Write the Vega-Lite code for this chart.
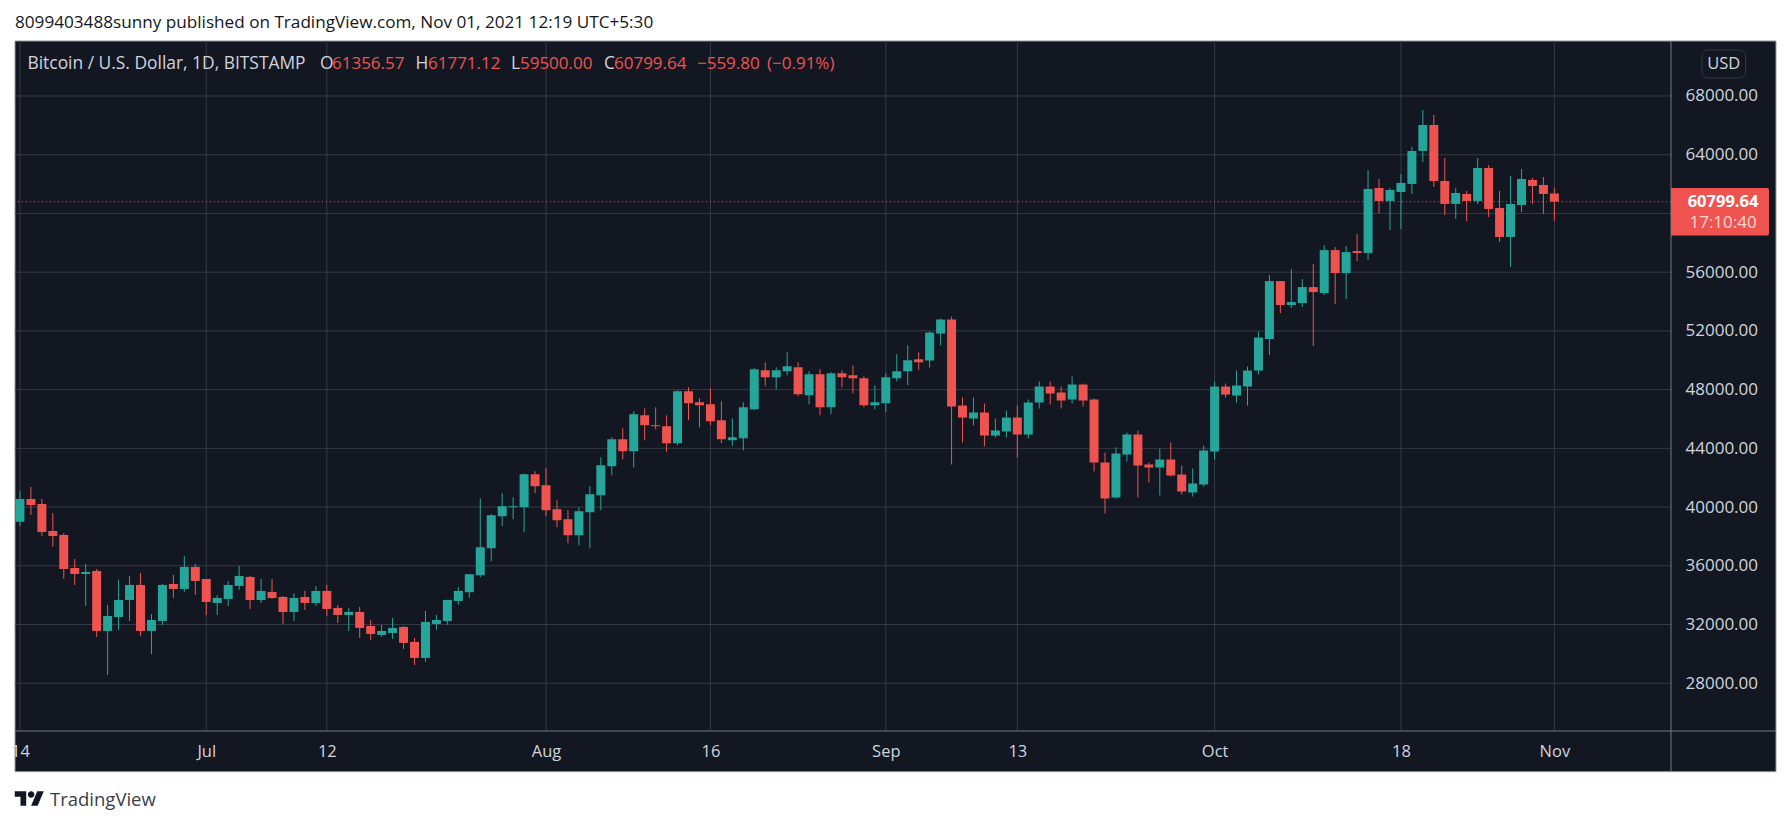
{
  "$schema": "https://vega.github.io/schema/vega-lite/v5.json",
  "autosize": {"type": "none"},
  "padding": {"left": 15, "top": 41, "right": 120, "bottom": 95},
  "width": 1656,
  "height": 690,
  "background": "#ffffff",
  "config": {"view": {"stroke": "transparent"}, "font": "Open Sans"},
  "title": {
    "text": "8099403488sunny published on TradingView.com, Nov 01, 2021 12:19 UTC+5:30",
    "anchor": "start",
    "frame": "group",
    "offset": 9,
    "fontSize": 17.15,
    "fontWeight": "normal",
    "color": "#131722",
    "font": "Open Sans"
  },
  "datasets": {
    "candles": [
      {"date":"2021-06-14","open":38998,"high":41094,"low":38711,"close":40550,"dir":"up"},
      {"date":"2021-06-15","open":40550,"high":41367,"low":39460,"close":40141,"dir":"down"},
      {"date":"2021-06-16","open":40209,"high":40550,"low":38030,"close":38302,"dir":"down"},
      {"date":"2021-06-17","open":38370,"high":39596,"low":37280,"close":38030,"dir":"down"},
      {"date":"2021-06-18","open":38098,"high":38234,"low":35101,"close":35782,"dir":"down"},
      {"date":"2021-06-19","open":35850,"high":36463,"low":34693,"close":35442,"dir":"down"},
      {"date":"2021-06-20","open":35442,"high":36123,"low":33263,"close":35578,"dir":"up"},
      {"date":"2021-06-21","open":35646,"high":35782,"low":31152,"close":31560,"dir":"down"},
      {"date":"2021-06-22","open":31560,"high":33331,"low":28564,"close":32581,"dir":"up"},
      {"date":"2021-06-23","open":32513,"high":35034,"low":31628,"close":33671,"dir":"up"},
      {"date":"2021-06-24","open":33671,"high":35306,"low":32241,"close":34693,"dir":"up"},
      {"date":"2021-06-25","open":34693,"high":35510,"low":31220,"close":31560,"dir":"down"},
      {"date":"2021-06-26","open":31560,"high":32718,"low":29994,"close":32309,"dir":"up"},
      {"date":"2021-06-27","open":32241,"high":34761,"low":31969,"close":34693,"dir":"up"},
      {"date":"2021-06-28","open":34761,"high":35374,"low":33808,"close":34420,"dir":"down"},
      {"date":"2021-06-29","open":34420,"high":36668,"low":34216,"close":35919,"dir":"up"},
      {"date":"2021-06-30","open":35919,"high":36123,"low":34012,"close":34965,"dir":"down"},
      {"date":"2021-07-01","open":35101,"high":35101,"low":32650,"close":33535,"dir":"down"},
      {"date":"2021-07-02","open":33467,"high":34012,"low":32650,"close":33808,"dir":"up"},
      {"date":"2021-07-03","open":33739,"high":34965,"low":33263,"close":34693,"dir":"up"},
      {"date":"2021-07-04","open":34625,"high":35987,"low":34352,"close":35306,"dir":"up"},
      {"date":"2021-07-05","open":35238,"high":35306,"low":33059,"close":33671,"dir":"down"},
      {"date":"2021-07-06","open":33671,"high":35101,"low":33467,"close":34284,"dir":"up"},
      {"date":"2021-07-07","open":34216,"high":35101,"low":33740,"close":33808,"dir":"down"},
      {"date":"2021-07-08","open":33876,"high":33944,"low":32037,"close":32854,"dir":"down"},
      {"date":"2021-07-09","open":32854,"high":34125,"low":32241,"close":33808,"dir":"up"},
      {"date":"2021-07-10","open":33876,"high":34284,"low":32990,"close":33467,"dir":"down"},
      {"date":"2021-07-11","open":33467,"high":34625,"low":33263,"close":34284,"dir":"up"},
      {"date":"2021-07-12","open":34284,"high":34693,"low":32581,"close":33059,"dir":"down"},
      {"date":"2021-07-13","open":33127,"high":33331,"low":32105,"close":32650,"dir":"down"},
      {"date":"2021-07-14","open":32650,"high":33127,"low":31560,"close":32854,"dir":"up"},
      {"date":"2021-07-15","open":32854,"high":33195,"low":31083,"close":31765,"dir":"down"},
      {"date":"2021-07-16","open":31901,"high":32309,"low":30947,"close":31356,"dir":"down"},
      {"date":"2021-07-17","open":31288,"high":31969,"low":31152,"close":31560,"dir":"up"},
      {"date":"2021-07-18","open":31424,"high":32445,"low":31015,"close":31765,"dir":"up"},
      {"date":"2021-07-19","open":31833,"high":31901,"low":30334,"close":30743,"dir":"down"},
      {"date":"2021-07-20","open":30811,"high":31083,"low":29245,"close":29722,"dir":"down"},
      {"date":"2021-07-21","open":29722,"high":32922,"low":29449,"close":32173,"dir":"up"},
      {"date":"2021-07-22","open":32037,"high":32650,"low":31628,"close":32309,"dir":"up"},
      {"date":"2021-07-23","open":32241,"high":33671,"low":31969,"close":33671,"dir":"up"},
      {"date":"2021-07-24","open":33603,"high":34557,"low":33331,"close":34284,"dir":"up"},
      {"date":"2021-07-25","open":34199,"high":35425,"low":33813,"close":35425,"dir":"up"},
      {"date":"2021-07-26","open":35357,"high":40600,"low":35220,"close":37263,"dir":"up"},
      {"date":"2021-07-27","open":37195,"high":39511,"low":36310,"close":39443,"dir":"up"},
      {"date":"2021-07-28","open":39374,"high":40941,"low":38693,"close":40055,"dir":"up"},
      {"date":"2021-07-29","open":39987,"high":40668,"low":39170,"close":40055,"dir":"up"},
      {"date":"2021-07-30","open":39987,"high":42303,"low":38285,"close":42235,"dir":"up"},
      {"date":"2021-07-31","open":42235,"high":42439,"low":40941,"close":41417,"dir":"down"},
      {"date":"2021-08-01","open":41486,"high":42643,"low":39374,"close":39783,"dir":"down"},
      {"date":"2021-08-02","open":39851,"high":40464,"low":38625,"close":39102,"dir":"down"},
      {"date":"2021-08-03","open":39170,"high":39783,"low":37536,"close":38080,"dir":"down"},
      {"date":"2021-08-04","open":38080,"high":39987,"low":37400,"close":39715,"dir":"up"},
      {"date":"2021-08-05","open":39647,"high":41417,"low":37195,"close":40873,"dir":"up"},
      {"date":"2021-08-06","open":40804,"high":43392,"low":39783,"close":42848,"dir":"up"},
      {"date":"2021-08-07","open":42779,"high":44754,"low":42167,"close":44618,"dir":"up"},
      {"date":"2021-08-08","open":44618,"high":45367,"low":43256,"close":43801,"dir":"down"},
      {"date":"2021-08-09","open":43801,"high":46525,"low":42711,"close":46321,"dir":"up"},
      {"date":"2021-08-10","open":46252,"high":46729,"low":44550,"close":45572,"dir":"down"},
      {"date":"2021-08-11","open":45572,"high":46797,"low":45299,"close":45503,"dir":"down"},
      {"date":"2021-08-12","open":45503,"high":46252,"low":43733,"close":44346,"dir":"down"},
      {"date":"2021-08-13","open":44346,"high":47955,"low":44210,"close":47887,"dir":"up"},
      {"date":"2021-08-14","open":47887,"high":48159,"low":45912,"close":47070,"dir":"down"},
      {"date":"2021-08-15","open":47138,"high":47410,"low":45435,"close":46933,"dir":"down"},
      {"date":"2021-08-16","open":47002,"high":48091,"low":45571,"close":45844,"dir":"down"},
      {"date":"2021-08-17","open":45912,"high":47206,"low":44346,"close":44618,"dir":"down"},
      {"date":"2021-08-18","open":44550,"high":46048,"low":44141,"close":44754,"dir":"up"},
      {"date":"2021-08-19","open":44686,"high":47138,"low":43869,"close":46797,"dir":"up"},
      {"date":"2021-08-20","open":46661,"high":49453,"low":46593,"close":49385,"dir":"up"},
      {"date":"2021-08-21","open":49317,"high":49862,"low":48227,"close":48840,"dir":"down"},
      {"date":"2021-08-22","open":48840,"high":49521,"low":48023,"close":49317,"dir":"up"},
      {"date":"2021-08-23","open":49249,"high":50543,"low":48976,"close":49589,"dir":"up"},
      {"date":"2021-08-24","open":49521,"high":49862,"low":47546,"close":47683,"dir":"down"},
      {"date":"2021-08-25","open":47615,"high":49249,"low":47002,"close":49045,"dir":"up"},
      {"date":"2021-08-26","open":49045,"high":49385,"low":46252,"close":46797,"dir":"down"},
      {"date":"2021-08-27","open":46797,"high":49181,"low":46321,"close":49113,"dir":"up"},
      {"date":"2021-08-28","open":49113,"high":49317,"low":48159,"close":48840,"dir":"down"},
      {"date":"2021-08-29","open":48977,"high":49657,"low":47751,"close":48772,"dir":"down"},
      {"date":"2021-08-30","open":48772,"high":48908,"low":46797,"close":46933,"dir":"down"},
      {"date":"2021-08-31","open":46933,"high":48295,"low":46661,"close":47138,"dir":"up"},
      {"date":"2021-09-01","open":47070,"high":49113,"low":46457,"close":48840,"dir":"up"},
      {"date":"2021-09-02","open":48772,"high":50407,"low":48568,"close":49249,"dir":"up"},
      {"date":"2021-09-03","open":49249,"high":51020,"low":48295,"close":49998,"dir":"up"},
      {"date":"2021-09-04","open":50066,"high":50543,"low":49317,"close":49862,"dir":"down"},
      {"date":"2021-09-05","open":49980,"high":51955,"low":49503,"close":51887,"dir":"up"},
      {"date":"2021-09-06","open":51819,"high":52840,"low":51001,"close":52772,"dir":"up"},
      {"date":"2021-09-07","open":52772,"high":52976,"low":42897,"close":46847,"dir":"down"},
      {"date":"2021-09-08","open":46915,"high":47460,"low":44396,"close":46098,"dir":"down"},
      {"date":"2021-09-09","open":46030,"high":47460,"low":45553,"close":46439,"dir":"up"},
      {"date":"2021-09-10","open":46439,"high":47052,"low":44123,"close":44872,"dir":"down"},
      {"date":"2021-09-11","open":44872,"high":46030,"low":44736,"close":45213,"dir":"up"},
      {"date":"2021-09-12","open":45145,"high":46575,"low":44736,"close":46098,"dir":"up"},
      {"date":"2021-09-13","open":46098,"high":46915,"low":43374,"close":44940,"dir":"down"},
      {"date":"2021-09-14","open":44940,"high":47324,"low":44668,"close":47120,"dir":"up"},
      {"date":"2021-09-15","open":47120,"high":48550,"low":46711,"close":48209,"dir":"up"},
      {"date":"2021-09-16","open":48209,"high":48550,"low":46983,"close":47733,"dir":"down"},
      {"date":"2021-09-17","open":47801,"high":48209,"low":46711,"close":47256,"dir":"down"},
      {"date":"2021-09-18","open":47324,"high":48890,"low":47052,"close":48345,"dir":"up"},
      {"date":"2021-09-19","open":48345,"high":48413,"low":46847,"close":47256,"dir":"down"},
      {"date":"2021-09-20","open":47324,"high":47392,"low":42421,"close":43034,"dir":"down"},
      {"date":"2021-09-21","open":43034,"high":43714,"low":39561,"close":40582,"dir":"down"},
      {"date":"2021-09-22","open":40650,"high":44055,"low":40582,"close":43647,"dir":"up"},
      {"date":"2021-09-23","open":43578,"high":45077,"low":43102,"close":44940,"dir":"up"},
      {"date":"2021-09-24","open":44940,"high":45213,"low":40650,"close":42829,"dir":"down"},
      {"date":"2021-09-25","open":42897,"high":43034,"low":41672,"close":42693,"dir":"down"},
      {"date":"2021-09-26","open":42693,"high":43987,"low":40786,"close":43238,"dir":"up"},
      {"date":"2021-09-27","open":43238,"high":44396,"low":42080,"close":42148,"dir":"down"},
      {"date":"2021-09-28","open":42216,"high":42829,"low":40854,"close":41059,"dir":"down"},
      {"date":"2021-09-29","open":40991,"high":42625,"low":40718,"close":41604,"dir":"up"},
      {"date":"2021-09-30","open":41536,"high":44191,"low":41399,"close":43851,"dir":"up"},
      {"date":"2021-10-01","open":43783,"high":48550,"low":43238,"close":48209,"dir":"up"},
      {"date":"2021-10-02","open":48209,"high":48413,"low":47460,"close":47664,"dir":"down"},
      {"date":"2021-10-03","open":47596,"high":49299,"low":47120,"close":48277,"dir":"up"},
      {"date":"2021-10-04","open":48209,"high":49571,"low":46915,"close":49299,"dir":"up"},
      {"date":"2021-10-05","open":49299,"high":51955,"low":49026,"close":51546,"dir":"up"},
      {"date":"2021-10-06","open":51442,"high":55800,"low":50352,"close":55392,"dir":"up"},
      {"date":"2021-10-07","open":55392,"high":55392,"low":53213,"close":53758,"dir":"down"},
      {"date":"2021-10-08","open":53758,"high":56209,"low":53553,"close":53962,"dir":"up"},
      {"date":"2021-10-09","open":53894,"high":55528,"low":53621,"close":54983,"dir":"up"},
      {"date":"2021-10-10","open":54983,"high":56550,"low":50966,"close":54643,"dir":"down"},
      {"date":"2021-10-11","open":54575,"high":57843,"low":54438,"close":57503,"dir":"up"},
      {"date":"2021-10-12","open":57503,"high":57707,"low":53826,"close":55937,"dir":"down"},
      {"date":"2021-10-13","open":55937,"high":57775,"low":54166,"close":57367,"dir":"up"},
      {"date":"2021-10-14","open":57435,"high":58593,"low":56754,"close":57299,"dir":"down"},
      {"date":"2021-10-15","open":57309,"high":62961,"low":56832,"close":61667,"dir":"up"},
      {"date":"2021-10-16","open":61735,"high":62348,"low":60033,"close":60850,"dir":"down"},
      {"date":"2021-10-17","open":60850,"high":61735,"low":58875,"close":61599,"dir":"up"},
      {"date":"2021-10-18","open":61463,"high":62689,"low":58943,"close":62076,"dir":"up"},
      {"date":"2021-10-19","open":62008,"high":64527,"low":61327,"close":64255,"dir":"up"},
      {"date":"2021-10-20","open":64255,"high":67047,"low":63506,"close":66025,"dir":"up"},
      {"date":"2021-10-21","open":66025,"high":66707,"low":61803,"close":62212,"dir":"down"},
      {"date":"2021-10-22","open":62212,"high":63778,"low":59896,"close":60646,"dir":"down"},
      {"date":"2021-10-23","open":60646,"high":61735,"low":59624,"close":61395,"dir":"up"},
      {"date":"2021-10-24","open":61327,"high":61531,"low":59488,"close":60850,"dir":"down"},
      {"date":"2021-10-25","open":60850,"high":63778,"low":60646,"close":63097,"dir":"up"},
      {"date":"2021-10-26","open":63097,"high":63301,"low":59760,"close":60305,"dir":"down"},
      {"date":"2021-10-27","open":60373,"high":61531,"low":58058,"close":58398,"dir":"down"},
      {"date":"2021-10-28","open":58398,"high":62552,"low":56355,"close":60646,"dir":"up"},
      {"date":"2021-10-29","open":60578,"high":63029,"low":60101,"close":62348,"dir":"up"},
      {"date":"2021-10-30","open":62280,"high":62416,"low":60646,"close":61871,"dir":"down"},
      {"date":"2021-10-31","open":61939,"high":62484,"low":59964,"close":61327,"dir":"down"},
      {"date":"2021-11-01","open":61356.57,"high":61771.12,"low":59500,"close":60799.64,"dir":"down"}
    ]
  },
  "layer": [
    {
      "data": {"values": [{"from":"2021-06-13T13:12:00Z","to":"2021-11-21T05:17:00Z","top":71745,"bottom":21973}]},
      "mark": {"type": "rect", "color": "#131722", "stroke": "#9598a1", "strokeWidth": 1},
      "encoding": {
        "x": {
          "field": "from",
          "type": "temporal",
          "title": null,
          "scale": {"type": "utc", "domain": ["2021-06-13T13:12:00Z", "2021-11-11T15:22:00Z"], "nice": false, "padding": 0},
          "axis": {
            "orient": "bottom",
            "zindex": 1,
            "grid": false,
            "domain": false,
            "ticks": false,
            "values": [
              {"year":2021,"month":"jun","date":14,"utc":true},
              {"year":2021,"month":"jul","date":1,"utc":true},
              {"year":2021,"month":"jul","date":12,"utc":true},
              {"year":2021,"month":"aug","date":1,"utc":true},
              {"year":2021,"month":"aug","date":16,"utc":true},
              {"year":2021,"month":"sep","date":1,"utc":true},
              {"year":2021,"month":"sep","date":13,"utc":true},
              {"year":2021,"month":"oct","date":1,"utc":true},
              {"year":2021,"month":"oct","date":18,"utc":true},
              {"year":2021,"month":"nov","date":1,"utc":true}
            ],
            "labelExpr": "utcdate(datum.value) == 1 ? utcFormat(datum.value, '%b') : utcFormat(datum.value, '%d')",
            "labelColor": "#d1d4dc",
            "labelFontSize": 16.5,
            "labelFont": "Open Sans",
            "labelPadding": 12,
            "labelOverlap": false,
            "labelBound": false,
            "labelFlush": false
          }
        },
        "x2": {"field": "to"},
        "y": {
          "field": "top",
          "type": "quantitative",
          "title": null,
          "scale": {"domain": [24745, 71745], "nice": false, "zero": false, "padding": 0},
          "axis": {
            "orient": "right",
            "zindex": 1,
            "grid": false,
            "domain": false,
            "ticks": false,
            "values": [28000,32000,36000,40000,44000,48000,52000,56000,60000,64000,68000],
            "labelExpr": "datum.value == 60000 ? '' : format(datum.value, '.2f')",
            "labelColor": "#d1d4dc",
            "labelFontSize": 17,
            "labelFont": "Open Sans",
            "labelPadding": 14,
            "labelOverlap": false,
            "labelBound": false,
            "labelFlush": false
          }
        },
        "y2": {"field": "bottom"}
      }
    },
    {
      "data": {"values": [
        {"date":"2021-06-14"},{"date":"2021-07-01"},{"date":"2021-07-12"},{"date":"2021-08-01"},{"date":"2021-08-16"},
        {"date":"2021-09-01"},{"date":"2021-09-13"},{"date":"2021-10-01"},{"date":"2021-10-18"},{"date":"2021-11-01"}
      ]},
      "mark": {"type": "rule", "color": "#363a45", "strokeWidth": 1},
      "encoding": {"x": {"field": "date", "type": "temporal", "title": null}}
    },
    {
      "data": {"values": [
        {"level":28000},{"level":32000},{"level":36000},{"level":40000},{"level":44000},{"level":48000},
        {"level":52000},{"level":56000},{"level":60000},{"level":64000},{"level":68000}
      ]},
      "mark": {"type": "rule", "color": "#363a45", "strokeWidth": 1},
      "encoding": {"y": {"field": "level", "type": "quantitative", "title": null}}
    },
    {
      "data": {"values": [{"last": 60799.64}]},
      "mark": {"type": "rule", "color": "#ef5350", "strokeWidth": 1, "strokeDash": [1, 3]},
      "encoding": {"y": {"field": "last", "type": "quantitative", "title": null}}
    },
    {
      "data": {"name": "candles"},
      "mark": {"type": "rule", "strokeWidth": 1},
      "encoding": {
        "x": {"field": "date", "type": "temporal", "title": null},
        "y": {"field": "low", "type": "quantitative", "title": null},
        "y2": {"field": "high"},
        "color": {"field": "dir", "type": "nominal", "legend": null, "scale": {"domain": ["up", "down"], "range": ["#26a69a", "#ef5350"]}}
      }
    },
    {
      "data": {"name": "candles"},
      "mark": {"type": "bar", "size": 9},
      "encoding": {
        "x": {"field": "date", "type": "temporal", "title": null},
        "y": {"field": "open", "type": "quantitative", "title": null},
        "y2": {"field": "close"},
        "color": {"field": "dir", "type": "nominal", "legend": null}
      }
    },
    {
      "data": {"values": [
        {"x":"2021-11-11T15:22:00Z","x2":"2021-11-11T15:22:00Z","y":71745,"y2":21973},
        {"x":"2021-06-13T13:12:00Z","x2":"2021-11-21T05:17:00Z","y":24745,"y2":24745}
      ]},
      "mark": {"type": "rule", "color": "#787b86", "strokeWidth": 1},
      "encoding": {
        "x": {"field": "x", "type": "temporal", "title": null},
        "x2": {"field": "x2"},
        "y": {"field": "y", "type": "quantitative", "title": null},
        "y2": {"field": "y2"}
      }
    },
    {
      "data": {"values": [{"from":"2021-11-11T15:22:00Z","to":"2021-11-20T13:55:00Z","top":61736,"bottom":58488}]},
      "mark": {"type": "rect", "color": "#ef5350", "cornerRadiusTopRight": 2, "cornerRadiusBottomRight": 2},
      "encoding": {
        "x": {"field": "from", "type": "temporal", "title": null},
        "x2": {"field": "to"},
        "y": {"field": "top", "type": "quantitative", "title": null},
        "y2": {"field": "bottom"}
      }
    },
    {
      "data": {"values": [{"from":"2021-11-14T11:17:00Z","to":"2021-11-18T10:48:00Z","top":71132,"bottom":69226}]},
      "mark": {"type": "rect", "fill": "#131722", "stroke": "#363a45", "strokeWidth": 1, "cornerRadius": 6},
      "encoding": {
        "x": {"field": "from", "type": "temporal", "title": null},
        "x2": {"field": "to"},
        "y": {"field": "top", "type": "quantitative", "title": null},
        "y2": {"field": "bottom"}
      }
    },
    {
      "data": {"values": [
        {"at":"2021-11-16T11:00:00Z","price":70179,"label":"USD"}
      ]},
      "mark": {"type": "text", "color": "#d1d4dc", "fontSize": 16.5, "font": "Open Sans", "align": "center", "baseline": "middle"},
      "encoding": {
        "x": {"field": "at", "type": "temporal", "title": null},
        "y": {"field": "price", "type": "quantitative", "title": null},
        "text": {"field": "label"}
      }
    },
    {
      "data": {"values": [
        {"at":"2021-11-16T09:22:00Z","price":60799.64,"label":"60799.64"}
      ]},
      "mark": {"type": "text", "color": "#ffffff", "fontSize": 16.5, "fontWeight": "bold", "font": "Open Sans", "align": "center", "baseline": "middle"},
      "encoding": {
        "x": {"field": "at", "type": "temporal", "title": null},
        "y": {"field": "price", "type": "quantitative", "title": null},
        "text": {"field": "label"}
      }
    },
    {
      "data": {"values": [
        {"at":"2021-11-16T09:22:00Z","price":59373,"label":"17:10:40"}
      ]},
      "mark": {"type": "text", "color": "#fbd5d4", "fontSize": 17, "font": "Open Sans", "align": "center", "baseline": "middle"},
      "encoding": {
        "x": {"field": "at", "type": "temporal", "title": null},
        "y": {"field": "price", "type": "quantitative", "title": null},
        "text": {"field": "label"}
      }
    },
    {
      "data": {"values": [
        {"at":"2021-06-14T16:34:00Z","price":70158,"label":"Bitcoin / U.S. Dollar, 1D, BITSTAMP"},
        {"at":"2021-07-11T08:53:00Z","price":70158,"label":"O"},
        {"at":"2021-07-20T02:24:00Z","price":70158,"label":"H"},
        {"at":"2021-07-28T19:12:00Z","price":70158,"label":"L"},
        {"at":"2021-08-06T06:58:00Z","price":70158,"label":"C"}
      ]},
      "mark": {"type": "text", "color": "#d1d4dc", "fontSize": 17.4, "font": "Open Sans", "align": "left", "baseline": "middle"},
      "encoding": {
        "x": {"field": "at", "type": "temporal", "title": null},
        "y": {"field": "price", "type": "quantitative", "title": null},
        "text": {"field": "label"}
      }
    },
    {
      "data": {"values": [
        {"at":"2021-07-12T11:17:00Z","price":70158,"label":"61356.57"},
        {"at":"2021-07-21T05:31:00Z","price":70158,"label":"61771.12"},
        {"at":"2021-07-29T14:53:00Z","price":70158,"label":"59500.00"},
        {"at":"2021-08-07T04:48:00Z","price":70158,"label":"60799.64"},
        {"at":"2021-08-14T18:29:00Z","price":70158,"label":"−559.80"},
        {"at":"2021-08-21T03:50:00Z","price":70158,"label":"(−0.91%)"}
      ]},
      "mark": {"type": "text", "color": "#ef5350", "fontSize": 17, "font": "Open Sans", "align": "left", "baseline": "middle"},
      "encoding": {
        "x": {"field": "at", "type": "temporal", "title": null},
        "y": {"field": "price", "type": "quantitative", "title": null},
        "text": {"field": "label"}
      }
    },
    {
      "data": {"values": [{"at":"2021-06-14T20:53:00Z","price":20148}]},
      "mark": {
        "type": "point",
        "filled": true,
        "opacity": 1,
        "size": 865,
        "color": "#131722",
        "shape": "M-.222 .5H-.611V-.111H-1V-.5H-.222ZM.556 .5H.111L.528 -.5H.972ZM-.111 -.278a.222 .222 0 1 0 .444 0a.222 .222 0 1 0 -.444 0Z"
      },
      "encoding": {
        "x": {"field": "at", "type": "temporal", "title": null},
        "y": {"field": "price", "type": "quantitative", "title": null}
      }
    },
    {
      "data": {"values": [{"at":"2021-06-16T17:46:00Z","price":20066,"label":"TradingView"}]},
      "mark": {"type": "text", "color": "#3a3e4a", "fontSize": 18.5, "font": "Open Sans", "align": "left", "baseline": "middle"},
      "encoding": {
        "x": {"field": "at", "type": "temporal", "title": null},
        "y": {"field": "price", "type": "quantitative", "title": null},
        "text": {"field": "label"}
      }
    }
  ]
}
